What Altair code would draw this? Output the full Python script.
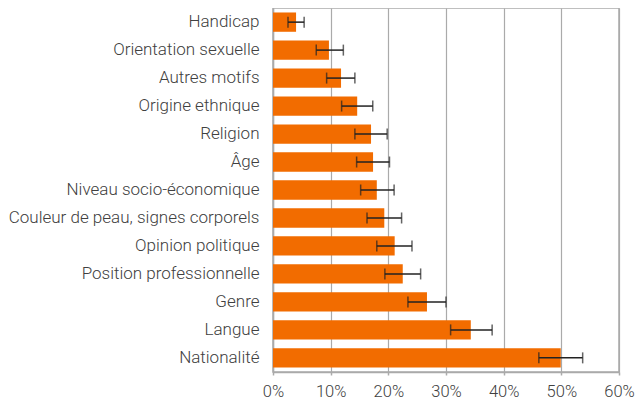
import altair as alt
import pandas as pd

categories = ["Handicap", "Orientation sexuelle", "Autres motifs", "Origine ethnique",
              "Religion", "Âge", "Niveau socio-économique", "Couleur de peau, signes corporels",
              "Opinion politique", "Position professionnelle", "Genre", "Langue", "Nationalité"]
values = [4.0, 9.7, 11.8, 14.6, 17.0, 17.35, 18.0, 19.3, 21.1, 22.5, 26.7, 34.3, 49.9]
err_low = [2.6, 7.5, 9.3, 11.9, 14.2, 14.5, 15.2, 16.3, 18.0, 19.4, 23.4, 30.8, 46.1]
err_high = [5.4, 12.2, 14.2, 17.3, 19.8, 20.2, 21.0, 22.3, 24.1, 25.6, 30.0, 38.0, 53.7]

df = pd.DataFrame({
    "cat": categories,
    "val": [v / 100 for v in values],
    "lo": [v / 100 for v in err_low],
    "hi": [v / 100 for v in err_high],
})

FONT = "Roboto"
y = alt.Y("cat:N", sort=categories, title=None,
          scale=alt.Scale(paddingInner=0.31, paddingOuter=0.16),
          axis=alt.Axis(labelFont=FONT, labelFontWeight=300, labelFontSize=17,
                        labelColor="#404040", labelPadding=14, ticks=False, labelLimit=400,
                        domainColor="#aaaaaa", domainWidth=1.5, grid=False))
xscale = alt.Scale(domain=[0, 0.6], nice=False)
xaxis = alt.Axis(format=".0%", values=[0, 0.1, 0.2, 0.3, 0.4, 0.5, 0.6],
                 labelFont=FONT, labelFontWeight=300, labelFontSize=16.5,
                 labelColor="#404040", labelPadding=8, tickSize=3, labelFlush=False,
                 tickColor="#aaaaaa", tickWidth=1.5, domainColor="#aaaaaa",
                 domainWidth=1.5, gridColor="#aaaaaa", gridWidth=1.2)

bars = alt.Chart(df).mark_bar(color="#F26C00").encode(
    x=alt.X("val:Q", scale=xscale, axis=xaxis, title=None),
    y=y,
)
rules = alt.Chart(df).mark_rule(color="#222222", strokeWidth=1.5).encode(
    x=alt.X("lo:Q", scale=xscale), x2="hi:Q", y=alt.Y("cat:N", sort=categories))
cap_lo = alt.Chart(df).mark_tick(color="#222222", thickness=1.5, size=11, orient="vertical").encode(
    x=alt.X("lo:Q", scale=xscale), y=alt.Y("cat:N", sort=categories))
cap_hi = alt.Chart(df).mark_tick(color="#222222", thickness=1.5, size=11, orient="vertical").encode(
    x=alt.X("hi:Q", scale=xscale), y=alt.Y("cat:N", sort=categories))

chart = alt.layer(bars, rules, cap_lo, cap_hi).properties(
    width=346, height=364,
    autosize=alt.AutoSizeParams(type="none"),
    padding={"left": 265, "top": 0, "right": 16, "bottom": 28},
).configure_view(stroke="#aaaaaa", strokeWidth=1.5)

chart.save("out.html", embed_options={"renderer": "svg", "actions": False})
